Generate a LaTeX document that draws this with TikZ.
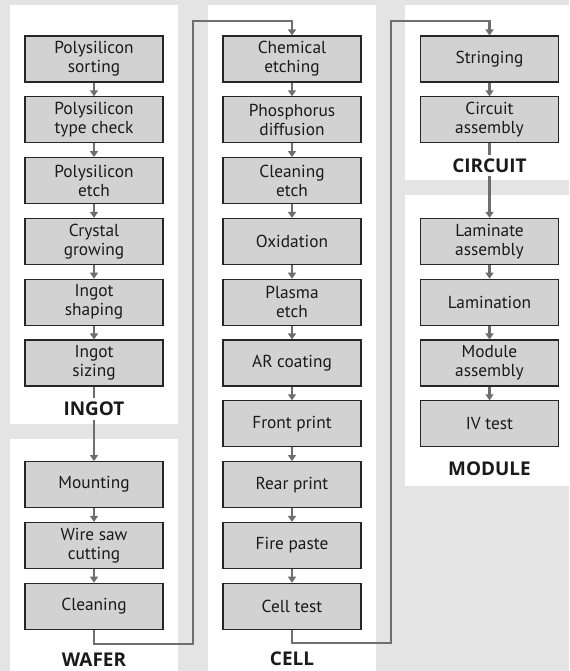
\documentclass[tikz,border=0pt]{standalone}
\usepackage{fontspec}
\setmainfont{PT Sans}
\newfontfamily\lblfont{Open Sans}
\usetikzlibrary{arrows.meta}
\definecolor{bggrey}{HTML}{E4E4E4}
\definecolor{boxgrey}{HTML}{D2D2D2}
\definecolor{linegrey}{HTML}{6E6E6E}
\definecolor{edgegrey}{HTML}{262626}
\definecolor{txt}{HTML}{1A1A1A}
\begin{document}
\begin{tikzpicture}[x=0.75pt,y=-0.75pt,
  procbox/.style={draw=edgegrey, fill=boxgrey, line width=0.8pt, minimum width=103.5pt,
    minimum height=34.5pt, inner sep=1pt, align=center, text=txt,
    font=\fontsize{13}{14.3}\selectfont},
  stagelabel/.style={inner xsep=3pt, inner ysep=3pt, text=txt,
    font=\lblfont\bfseries\fontsize{14.2}{15}\selectfont},
  flow/.style={draw=linegrey, line width=2pt, -{Triangle[width=6pt,length=4.5pt]}}]
\fill[bggrey] (0,0) rectangle (569,671);
\useasboundingbox (0,0) rectangle (569,671);
% panels
\fill[white] (10,5) rectangle (178,424);
\fill[white] (10,439) rectangle (178,671);
\fill[white] (208,5) rectangle (376,671);
\fill[white] (405,5) rectangle (569,180);
\fill[white] (405,195) rectangle (569,486);
% INGOT column
\node[procbox] (i1) at (94,59) {Polysilicon\\sorting};
\node[procbox] (i2) at (94,119.8) {Polysilicon\\type check};
\node[procbox] (i3) at (94,180.6) {Polysilicon\\etch};
\node[procbox] (i4) at (94,241.4) {Crystal\\growing};
\node[procbox] (i5) at (94,302.2) {Ingot\\shaping};
\node[procbox] (i6) at (94,363) {Ingot\\sizing};
% WAFER column
\node[procbox] (w1) at (94,484.6) {Mounting};
\node[procbox] (w2) at (94,545.4) {Wire saw\\cutting};
\node[procbox] (w3) at (94,606.2) {Cleaning};
% CELL column
\node[procbox] (c1) at (292,59) {Chemical\\etching};
\node[procbox] (c2) at (292,119.8) {Phosphorus\\diffusion};
\node[procbox] (c3) at (292,180.6) {Cleaning\\etch};
\node[procbox] (c4) at (292,241.4) {Oxidation};
\node[procbox] (c5) at (292,302.2) {Plasma\\etch};
\node[procbox] (c6) at (292,363) {AR coating};
\node[procbox] (c7) at (292,423.8) {Front print};
\node[procbox] (c8) at (292,484.6) {Rear print};
\node[procbox] (c9) at (292,545.4) {Fire paste};
\node[procbox] (c10) at (292,606.2) {Cell test};
% CIRCUIT column
\node[procbox] (r1) at (489.5,59) {Stringing};
\node[procbox] (r2) at (489.5,119.8) {Circuit\\assembly};
% MODULE column
\node[procbox] (m1) at (489.5,241.4) {Laminate\\assembly};
\node[procbox] (m2) at (489.5,302.2) {Lamination};
\node[procbox] (m3) at (489.5,363) {Module\\assembly};
\node[procbox] (m4) at (489.5,423.8) {IV test};
% bend points
\coordinate (bA) at (193,644);
\coordinate (bB) at (193,21);
\coordinate (bC) at (391,643);
\coordinate (bD) at (391,21);
% connectors
\foreach \a/\b in {i1/i2,i2/i3,i3/i4,i4/i5,i5/i6,i6/w1,w1/w2,w2/w3,
  c1/c2,c2/c3,c3/c4,c4/c5,c5/c6,c6/c7,c7/c8,c8/c9,c9/c10,
  r1/r2,r2/m1,m1/m2,m2/m3,m3/m4}
  \draw[flow] (\a) -- (\b);
\draw[flow] (w3.south) |- (bA) -- (bB) -| (c1.north);
\draw[flow] (c10.south) |- (bC) -- (bD) -| (r1.north);
% stage labels
\node[stagelabel, fill=white] (lingot) at (94,409) {INGOT};
\node[stagelabel] (lwafer) at (94,660) {WAFER};
\node[stagelabel] (lcell) at (292,659) {CELL};
\node[stagelabel, fill=white] (lcircuit) at (489.5,165.5) {CIRCUIT};
\node[stagelabel] (lmodule) at (489.5,469) {MODULE};
\end{tikzpicture}
\end{document}
